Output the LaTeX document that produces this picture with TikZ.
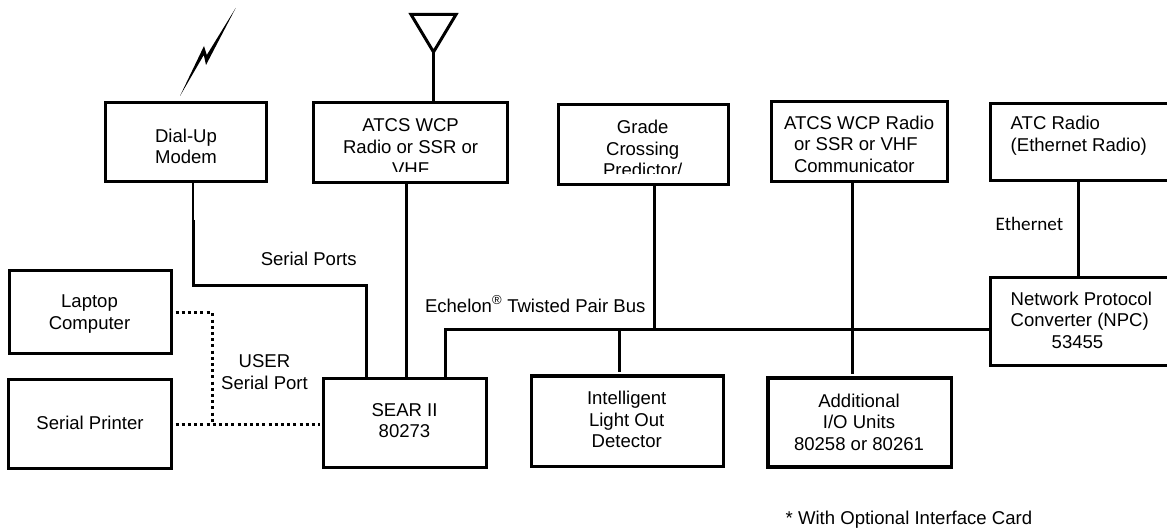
\documentclass[tikz,border=0pt]{standalone}
\usepackage{fontspec}
\setmainfont{Liberation Sans}
\newfontfamily\ethfont{Carlito}
\tikzset{
  box/.style={draw=black,line width=3pt,fill=white,inner sep=0pt,outer sep=0pt},
  heavybox/.style={box,line width=3.4pt},
  lbl/.style={inner sep=0pt,outer sep=0pt,align=center,font=\fontsize{18.55}{21.6}\selectfont},
  lbll/.style={lbl,align=left},
  wire/.style={draw=black,line width=3pt,line cap=butt},
  dotwire/.style={draw=black,line width=3pt,dash pattern=on 3pt off 3.2pt},
}
\begin{document}
\begin{tikzpicture}[x=1pt,y=-1pt]
\useasboundingbox (0,0) rectangle (1167,529);
% boxes
\node[box,minimum width=161pt,minimum height=79pt] (dial) at (186.2,142.5) {};
\node[box,minimum width=193.7pt,minimum height=80pt] (wcpa) at (410.8,142.7) {};
\node[box,minimum width=170pt,minimum height=80.3pt] (grade) at (643,144.8) {};
\node[box,minimum width=175.3pt,minimum height=80.7pt] (wcpb) at (859.6,141.6) {};
\node[box,minimum width=182pt,minimum height=76.7pt] (atc) at (1081.7,141.7) {};
\node[box,minimum width=182pt,minimum height=88pt] (npc) at (1081.7,321.3) {};
\node[box,minimum width=162.3pt,minimum height=83.3pt] (laptop) at (90.2,312.3) {};
\node[box,minimum width=162.5pt,minimum height=89.3pt] (printer) at (90.2,423.7) {};
\node[box,minimum width=162.7pt,minimum height=89pt] (sear) at (405.3,422.5) {};
\node[heavybox,minimum width=191.6pt,minimum height=90.7pt] (ilod) at (627.5,421.3) {};
\node[heavybox,minimum width=183.3pt,minimum height=89pt] (addl) at (859.7,422.5) {};
% labels
\node[lbl] (tdial) at (186,146.5) {Dial-Up\\Modem};
\begin{scope}
\clip (wcpa.north west) rectangle (507,171.7);
\node[lbl] (twcpa) at (410.6,147) {ATCS WCP\\Radio or SSR or\\VHF};
\end{scope}
\begin{scope}
\clip (grade.north west) rectangle (728,174);
\node[lbl] (tgrade) at (642.7,148.5) {Grade\\Crossing\\Predictor/};
\end{scope}
\node[lbll,anchor=west] (twcpb) at (784,144.3) {ATCS WCP Radio\\\hspace*{10pt}or SSR or VHF\\\hspace*{10pt}Communicator};
\node[lbll,anchor=west] (tatc) at (1010.7,135.5) {ATC Radio\\(Ethernet Radio)};
\node[lbll,anchor=west] (tnpc) at (1010.7,320.3) {Network Protocol\\Converter (NPC)\\\hspace*{41pt}53455};
\node[lbl] (tlaptop) at (89.5,314) {Laptop\\Computer};
\node[lbl] (tprinter) at (90,423) {Serial Printer};
\node[lbl] (tsear) at (404.5,420.5) {SEAR II\\80273};
\node[lbl] (tilod) at (626.7,419.5) {Intelligent\\Light Out\\Detector};
\node[lbl] (taddl) at (859,422.3) {Additional\\I/O Units\\80258 or 80261};
\node[lbl] (tuser) at (264.5,372) {USER\\Serial Port};
\node[lbl] (tports) at (308.7,258.7) {Serial Ports};
\node[lbl,anchor=west] (tbus) at (425,304) {Echelon\raisebox{1.5pt}{\textsuperscript{®}} Twisted Pair Bus};
\node[lbl,anchor=west,font=\ethfont\fontsize{19.1}{21}\selectfont] (teth) at (995.7,224) {Ethernet};
\node[lbl,anchor=west] (tnote) at (785.7,520) {* With Optional Interface Card};
% antenna
\coordinate (anttip) at (433.5,52);
\draw[line width=3pt,line join=miter] (411,14.5) -- (456,14.5) -- (anttip) -- cycle;
\draw[wire] (anttip) -- (anttip |- wcpa.north);
% lightning bolt
\fill (235.7,8) -- (206,65) -- (203.8,55) -- (180,96) -- (204,46) -- (206.8,55) -- cycle;
% connectors
\draw[wire,line width=2pt] (dial.south -| 192.8,0) -- (192.8,220);
\coordinate (bendA) at (193.5,285.3);
\coordinate (bendB) at (366.5,285.3);
\draw[wire,line join=miter] (193.5,220) -- (bendA) -- (bendB) -- (bendB |- sear.north);
\draw[wire] (wcpa.south -| 406,0) -- (sear.north -| 406,0);
\coordinate (busL) at (445.7,329);
\draw[wire,line join=miter] (sear.north -| busL) -- (busL) -- (npc.west |- busL);
\draw[wire] (grade.south -| 654.5,0) -- (654.5,329);
\coordinate (ilodstub) at (619.3,371.7);
\draw[wire] (ilodstub |- busL) -- (ilodstub);
\coordinate (addlstub) at (852.3,374);
\draw[wire,line width=2.7pt] (wcpb.south -| addlstub) -- (addlstub);
\draw[wire] (atc.south -| 1078.3,0) -- (npc.north -| 1078.3,0);
% dotted
\coordinate (dotTop) at (212,312.7);
\coordinate (dotBot) at (212,424);
\coordinate (dotEnd) at (320,424);
\coordinate (dotStart) at (175.5,424);
\draw[dotwire] (dotTop -| 175.5,0) -- (dotTop) -- (dotBot);
\draw[dotwire] (dotStart) -- (dotEnd);
\end{tikzpicture}
\end{document}
